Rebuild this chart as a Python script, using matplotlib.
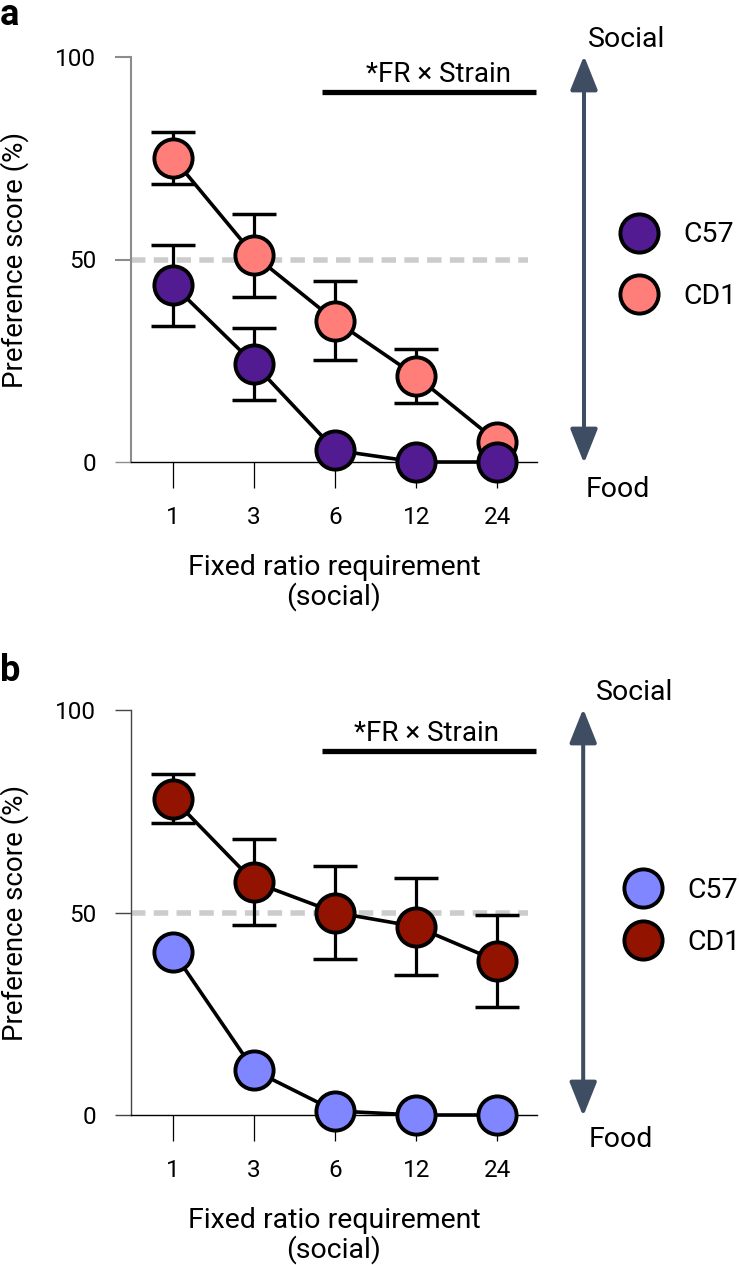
import numpy as np
import matplotlib
matplotlib.use("Agg")
import matplotlib.pyplot as plt
from matplotlib.lines import Line2D

plt.rcParams["font.family"] = ["Roboto", "DejaVu Sans"]

# ---------- data ---------- #
fr_labels = ["1", "3", "6", "12", "24"]
strains = ["C57", "CD1"]

# panel a
a_c57_mean = [43.7, 24.2, 2.9, 0.0, 0.0]
a_c57_sem = [10.0, 9.0, 0.0, 0.0, 0.0]
a_cd1_mean = [75.1, 51.0, 34.9, 21.2, 5.0]
a_cd1_sem = [6.4, 10.3, 9.8, 6.7, 0.0]

# panel b
b_c57_mean = [40.3, 11.0, 1.0, 0.0, 0.0]
b_c57_sem = [0.0, 0.0, 0.0, 0.0, 0.0]
b_cd1_mean = [78.1, 57.5, 50.0, 46.5, 38.0]
b_cd1_sem = [6.0, 10.7, 11.5, 12.0, 11.3]

colors_a = {"C57": "#521b92", "CD1": "#ff7e79"}
colors_b = {"C57": "#7f86ff", "CD1": "#921400"}

W, H = 739, 1265
fig = plt.figure(figsize=(W / 100, H / 100), dpi=100)

x = np.arange(len(fr_labels))
MS = 27.5
MEW = 2.8


def draw_series(ax, mean, sem, color, z):
    mean = np.asarray(mean)
    sem = np.asarray(sem)
    m = sem > 0
    if m.any():
        ax.errorbar(x[m], mean[m], yerr=sem[m], fmt="none", ecolor="black",
                    elinewidth=2.3, capsize=15.5, capthick=2.5, zorder=z - 0.5,
                    clip_on=False)
    ax.plot(x, mean, "-o", color="black", lw=2.6, markersize=MS,
            markerfacecolor=color, markeredgecolor="black", markeredgewidth=MEW,
            zorder=z, clip_on=False)


def panel(ax, c57, c57_sem, cd1, cd1_sem, colors, spine_col, spine_lw,
          sig_x, sig_y, bar_y, arrow_x, social_x, food_x, food_y, leg_anchor,
          leg_spacing):
    ax.set_xlim(-0.52, 4.49)
    ax.set_ylim(0, 100)
    for s in ["top", "right"]:
        ax.spines[s].set_visible(False)
    ax.spines["left"].set_color(spine_col)
    ax.spines["left"].set_linewidth(spine_lw)
    ax.spines["bottom"].set_color("black")
    ax.spines["bottom"].set_linewidth(1.0)

    ax.set_xticks(x)
    ax.set_xticklabels(fr_labels)
    ax.set_yticks([0, 50, 100])
    ax.tick_params(axis="x", direction="out", length=18.5, width=0.9,
                   color="black", pad=13.5, labelsize=17.5)
    ax.tick_params(axis="y", direction="out", length=11.5, width=spine_lw,
                   color=spine_col, pad=13.5, labelsize=17.5)
    t0 = ax.yaxis.get_major_ticks()[0]
    t0.tick1line.set_color("black")
    t0.tick1line.set_markeredgewidth(1.0)

    ax.set_ylabel("Preference score (%)", fontsize=20)
    ax.yaxis.set_label_coords(-0.25, 0.5)
    ax.set_xlabel("Fixed ratio requirement\n(social)", fontsize=20.5,
                  linespacing=1.05, va="top")
    ax.xaxis.set_label_coords(0.5, -0.228)

    # chance line
    ax.plot([-0.52, 4.38], [50, 50], color="#cccccc", lw=4.0,
            dashes=(2.6, 1.5), zorder=1, solid_capstyle="butt")

    draw_series(ax, cd1, cd1_sem, colors["CD1"], 3)
    draw_series(ax, c57, c57_sem, colors["C57"], 4)

    # interaction bar
    ax.plot([1.84, 4.48], [bar_y, bar_y], color="black", lw=3.8,
            solid_capstyle="butt", clip_on=False)
    ax.text(sig_x, sig_y, "*FR \u00d7 Strain", fontsize=20, ha="center",
            va="baseline")

    # social / food arrow
    ax.annotate("", xy=(arrow_x, 100.3), xytext=(arrow_x, -0.3),
                arrowprops=dict(arrowstyle="<|-|>,head_length=1.05,head_width=0.42",
                                mutation_scale=20, color="#3f4d63", lw=2.9,
                                shrinkA=0, shrinkB=0),
                annotation_clip=False)
    ax.text(social_x, 102.4, "Social", fontsize=20.5, ha="center",
            va="baseline", clip_on=False)
    ax.text(food_x, food_y, "Food", fontsize=20.5, ha="center",
            va="baseline", clip_on=False)

    handles = [Line2D([], [], ls="none", marker="o", markersize=MS,
                      markerfacecolor=colors[s], markeredgecolor="black",
                      markeredgewidth=MEW) for s in strains]
    ax.legend(handles, strains, loc="center left", bbox_to_anchor=leg_anchor,
              frameon=False, fontsize=20.5, handlelength=1.6, handletextpad=0.75,
              labelspacing=leg_spacing, borderpad=0, borderaxespad=0)


ax_a = fig.add_axes([131 / W, 1 - 462 / H, 406 / W, 405 / H])
panel(ax_a, a_c57_mean, a_c57_sem, a_cd1_mean, a_cd1_sem, colors_a,
      "#8c8c8c", 1.5, sig_x=3.27, sig_y=93.8, bar_y=91.4, arrow_x=5.07,
      social_x=5.59, food_x=5.49, food_y=-8.6, leg_anchor=(1.195, 0.485),
      leg_spacing=1.2)

ax_b = fig.add_axes([131 / W, 1 - 1115 / H, 406 / W, 405 / H])
panel(ax_b, b_c57_mean, b_c57_sem, b_cd1_mean, b_cd1_sem, colors_b,
      "#444444", 1.0, sig_x=3.13, sig_y=92.3, bar_y=89.8, arrow_x=5.06,
      social_x=5.69, food_x=5.53, food_y=-7.9, leg_anchor=(1.205, 0.491),
      leg_spacing=0.88)

fig.text(0.0, 1 - 25 / H, "a", fontsize=26, fontweight="bold",
         va="baseline", ha="left")
fig.text(0.0, 1 - 681 / H, "b", fontsize=26, fontweight="bold",
         va="baseline", ha="left")

fig.savefig("out.png", dpi=100)
